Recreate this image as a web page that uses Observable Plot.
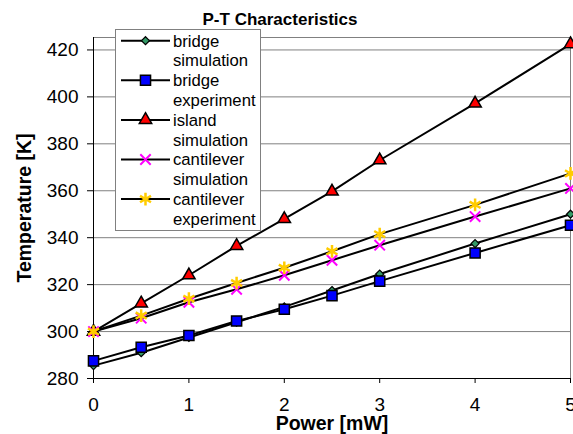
<!DOCTYPE html>
<html><head><meta charset="utf-8">
<script src="https://cdn.jsdelivr.net/npm/d3@7"></script>
<script src="https://cdn.jsdelivr.net/npm/@observablehq/plot@0.6"></script>
<style>html,body{margin:0;padding:0;background:#fff;} svg{display:block}</style>
</head><body><div id="chart"></div>
<script>
const title = "P-T Characteristics";
const xLabel = "Power [mW]";
const yLabel = "Temperature [K]";
const power = [0, 0.5, 1, 1.5, 2, 2.5, 3, 4, 5];
const bridgeSimulation = [285.5, 291, 297.5, 304, 310.5, 317.5, 324.5, 337.5, 350];
const bridgeExperiment = [287.5, 293.3, 298.3, 304.5, 309.5, 315.3, 321.5, 333.5, 345.3];
const islandSimulation = [300, 312, 324, 336.5, 348, 359.7, 373, 397.2, 422.5];
const cantileverSimulation = [300, 305.7, 312.5, 318, 324, 330.4, 336.8, 349, 361];
const cantileverExperiment = [300, 306.8, 314, 320.7, 327.2, 334.2, 341.5, 354, 367.4];
const seriesNames = ["bridge simulation", "bridge experiment", "island simulation", "cantilever simulation", "cantilever experiment"];
const xTicks = [0, 1, 2, 3, 4, 5];
const yTicks = [280, 300, 320, 340, 360, 380, 400, 420];

const seriesValues = [bridgeSimulation, bridgeExperiment, islandSimulation, cantileverSimulation, cantileverExperiment];
const seriesStyle = [
  {symbol: "diamond2", r: 3.6, fill: "#339966", stroke: "black", strokeWidth: 1.2},
  {symbol: "square", r: 5.7, fill: "#0000ff", stroke: "black", strokeWidth: 1.5},
  {symbol: "triangle", r: 4.6, fill: "#ff0000", stroke: "black", strokeWidth: 1.5},
  {symbol: "times", r: 4.8, fill: "none", stroke: "#ff00ff", strokeWidth: 2},
  {symbol: "asterisk", r: 6, fill: "none", stroke: "#ffcc00", strokeWidth: 2.5}
];
const d3Symbols = {
  diamond2: d3.symbolDiamond2, square: d3.symbolSquare, triangle: d3.symbolTriangle,
  times: d3.symbolTimes || d3.symbolX, asterisk: d3.symbolAsterisk
};

const rows = seriesValues.map((vals, i) => power.map((p, j) => ({power: p, temp: vals[j], series: seriesNames[i]})));
const yDomain = [280, 425.3];
const font = "'Liberation Sans', Arial, sans-serif";

const plot = Plot.plot({
  width: 573,
  height: 434,
  marginTop: 37,
  marginLeft: 93,
  marginRight: 3,
  marginBottom: 56,
  style: {fontFamily: font, fontSize: "19px", color: "black", background: "white"},
  x: {domain: [0, 5]},
  y: {domain: yDomain},
  marks: [
    Plot.ruleY(yTicks.filter(t => t > 280), {y: d => d, stroke: "#808080", strokeWidth: 1}),
    Plot.ruleY([yDomain[1]], {y: d => d, stroke: "#808080", strokeWidth: 1}),
    Plot.ruleX([5], {x: d => d, stroke: "#808080", strokeWidth: 1}),
    Plot.ruleX([0], {x: d => d, stroke: "black", strokeWidth: 1}),
    Plot.ruleY([280], {y: d => d, stroke: "black", strokeWidth: 1}),
    Plot.axisX({ticks: xTicks, tickSize: 5, tickPadding: 14, fontSize: 19, label: null, tickFormat: d => String(d)}),
    Plot.axisY({ticks: yTicks, tickSize: 6, tickPadding: 9, fontSize: 19, label: null, tickFormat: d => String(d)}),
    ...rows.map(r => Plot.line(r, {x: "power", y: "temp", stroke: "black", strokeWidth: 2})),
    ...rows.map((r, i) => Plot.dot(r, {x: "power", y: "temp", ...seriesStyle[i]})),
    Plot.text([title], {text: d => d, frameAnchor: "top", lineAnchor: "middle", textAnchor: "middle", dx: -52, dy: -18, fontWeight: "bold", fontSize: 17}),
    Plot.text([xLabel], {text: d => d, frameAnchor: "bottom", lineAnchor: "middle", textAnchor: "middle", dy: 45, fontWeight: "bold", fontSize: 19.5}),
    Plot.text([yLabel], {text: d => d, frameAnchor: "left", lineAnchor: "middle", textAnchor: "middle", rotate: -90, dx: -69, fontWeight: "bold", fontSize: 19.5})
  ]
});

// legend
const svg = d3.select(plot);
const lg = svg.append("g").attr("font-family", font).attr("font-size", 16.7).attr("text-anchor", "start");
lg.append("rect").attr("x", 115.5).attr("y", 29.5).attr("width", 145).attr("height", 201)
  .attr("fill", "white").attr("stroke", "#808080").attr("stroke-width", 1);
seriesNames.forEach((name, i) => {
  const cy = 40.7 + i * 39.6;
  const st = seriesStyle[i];
  lg.append("line").attr("x1", 121).attr("x2", 170).attr("y1", cy).attr("y2", cy)
    .attr("stroke", "black").attr("stroke-width", 2);
  lg.append("path").attr("transform", `translate(145.5,${cy})`)
    .attr("d", d3.symbol(d3Symbols[st.symbol], Math.PI * st.r * st.r)())
    .attr("fill", st.fill).attr("stroke", st.stroke).attr("stroke-width", st.strokeWidth);
  const words = name.split(" ");
  lg.append("text").attr("x", 173).attr("y", cy).attr("dy", "0.35em").attr("text-anchor", "start").text(words[0]);
  lg.append("text").attr("x", 173).attr("y", cy + 19.8).attr("dy", "0.35em").attr("text-anchor", "start").text(words.slice(1).join(" "));
});

document.getElementById("chart").appendChild(plot);
</script>
</body></html>
